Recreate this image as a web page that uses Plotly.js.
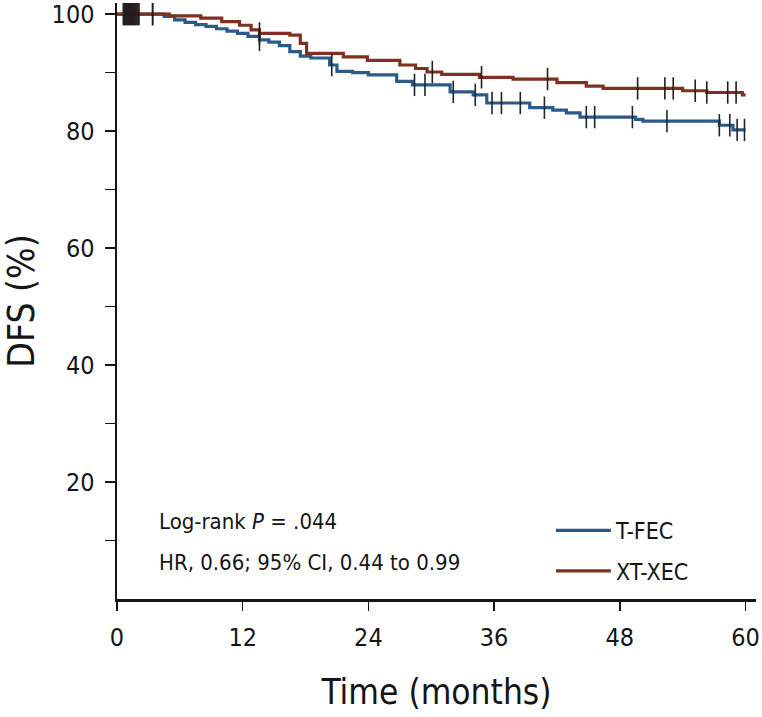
<!DOCTYPE html>
<html>
<head>
<meta charset="utf-8">
<script src="https://cdn.plot.ly/plotly-3.0.1.min.js"></script>
<style>html,body{margin:0;padding:0;background:#fff;}#chart{width:762px;height:717px;}</style>
</head>
<body>
<div id="chart"></div>
<script>
// T-FEC Kaplan-Meier steps (months, DFS %)
const tfecTimes = [0, 4.5, 5.5, 6.5, 7.5, 8.5, 9.5, 10.5, 11.5, 12.5, 13.6, 14.5, 15.5, 16.5, 17.5, 18.5, 20.3, 21, 22.5, 24, 26.7, 28.2, 31.8, 34, 35.3, 39.4, 41.6, 42.9, 44.2, 49.5, 50.2, 57.5, 58.8, 60];
const tfecDFS   = [100, 99.6, 99.0, 98.6, 98.2, 97.9, 97.5, 97.1, 96.7, 96.2, 95.6, 95.2, 94.6, 93.6, 92.8, 92.5, 91.3, 90.2, 90.0, 89.6, 88.5, 87.9, 86.7, 86.2, 84.8, 84.0, 83.6, 83.1, 82.4, 82.0, 81.7, 81.0, 80.2, 80.2];
const tfecCensor = [0.6, 0.8, 1.0, 1.2, 1.4, 1.6, 1.8, 2.0, 3.4, 13.6, 20.5, 28.4, 29.4, 32.1, 34.2, 35.8, 36.7, 38.5, 40.8, 44.8, 45.6, 49.2, 52.5, 57.5, 58.5, 59.2, 59.9];

// XT-XEC Kaplan-Meier steps
const xtxecTimes = [0, 5, 8, 10, 11.7, 12.8, 13.6, 16.5, 17.5, 18.1, 21.6, 23.9, 27, 28.5, 29.6, 31, 34.6, 37.8, 42, 44.8, 46.4, 54, 56.3, 59.7, 60];
const xtxecDFS   = [100, 99.7, 99.3, 98.7, 98.1, 97.3, 96.7, 96.4, 95.0, 93.3, 92.7, 92.1, 91.3, 90.7, 90.1, 89.7, 89.2, 88.9, 88.3, 87.7, 87.3, 86.9, 86.6, 86.2, 86.2];
const xtxecCensor = [0.7, 0.9, 1.1, 1.3, 1.5, 1.7, 1.9, 2.1, 3.4, 13.6, 30.1, 34.8, 41.1, 49.7, 52.3, 53.1, 55.2, 56.3, 58.3, 59.1];

const xTicks = [0, 12, 24, 36, 48, 60];
const yTicks = [20, 40, 60, 80, 100];
const yMinorTicks = [10, 30, 50, 70, 90];

function stepAt(times, vals, t) {
  let v = vals[0];
  for (let i = 0; i < times.length; i++) { if (times[i] <= t) v = vals[i]; }
  return v;
}

const FONT = '"Liberation Sans Narrow", "DejaVu Sans Condensed", "Arial Narrow", sans-serif';
const BLUE = '#2b5a88';
const RED = '#7f3020';
const INK = '#151515';

const traces = [
  {x: tfecTimes, y: tfecDFS, mode: 'lines', line: {shape: 'hv', color: BLUE, width: 3.2}, name: 'T-FEC', legend: 'legend'},
  {x: xtxecTimes, y: xtxecDFS, mode: 'lines', line: {shape: 'hv', color: RED, width: 3.2}, name: 'XT-XEC', legend: 'legend2'},
  {x: tfecCensor, y: tfecCensor.map(t => stepAt(tfecTimes, tfecDFS, t)), mode: 'markers', showlegend: false,
   marker: {symbol: 'line-ns', size: 16, line: {color: '#1d2630', width: 1.6}}},
  {x: xtxecCensor, y: xtxecCensor.map(t => stepAt(xtxecTimes, xtxecDFS, t)), mode: 'markers', showlegend: false,
   marker: {symbol: 'line-ns', size: 16, line: {color: '#261c1a', width: 1.6}}}
];

const layout = {
  width: 762, height: 717,
  margin: {l: 117, r: 6, t: 3, b: 118},
  paper_bgcolor: '#fff', plot_bgcolor: '#fff',
  font: {family: FONT, color: INK, size: 22},
  xaxis: {
    range: [0, 61], tickvals: xTicks, ticktext: xTicks.map(String),
    showline: true, linecolor: INK, linewidth: 2.5, mirror: false,
    ticks: 'outside', ticklen: 9, tickwidth: 1.5, tickcolor: INK,
    ticklabelstandoff: 5, ticklabeloverflow: 'allow',
    showgrid: false, zeroline: false,
    tickfont: {family: FONT, size: 25, color: INK},
    title: {text: 'Time (months)', font: {family: FONT, size: 35, color: INK}, standoff: 29}
  },
  yaxis: {
    range: [0, 101.9], tickvals: yTicks, ticktext: yTicks.map(String),
    showline: true, linecolor: INK, linewidth: 2.5,
    ticks: 'outside', ticklen: 10, tickwidth: 1.5, tickcolor: INK,
    ticklabelstandoff: 5, ticklabeloverflow: 'allow',
    minor: {tickvals: yMinorTicks, ticks: 'outside', ticklen: 10, tickwidth: 1.5, tickcolor: INK, showgrid: false},
    showgrid: false, zeroline: false,
    tickfont: {family: FONT, size: 25, color: INK},
    title: {text: 'DFS (%)', font: {family: FONT, size: 37, color: INK}, standoff: 7}
  },
  legend: {x: 0.679, y: 0.115, xanchor: 'left', yanchor: 'middle', bgcolor: 'rgba(0,0,0,0)',
           font: {family: FONT, size: 23, color: INK}, itemwidth: 55},
  legend2: {x: 0.679, y: 0.047, xanchor: 'left', yanchor: 'middle', bgcolor: 'rgba(0,0,0,0)',
           font: {family: FONT, size: 23, color: INK}, itemwidth: 55},
  annotations: [
    {x: 3.8, y: 13.2, xref: 'x', yref: 'y', xanchor: 'left', yanchor: 'middle', showarrow: false,
     text: 'Log-rank <i>P</i> = .044', font: {family: FONT, size: 22, color: INK}},
    {x: 3.8, y: 6.2, xref: 'x', yref: 'y', xanchor: 'left', yanchor: 'middle', showarrow: false,
     text: 'HR, 0.66; 95% CI, 0.44 to 0.99', font: {family: FONT, size: 22, color: INK}}
  ],
  showlegend: true
};

Plotly.newPlot('chart', traces, layout, {displayModeBar: false, staticPlot: true});
</script>
</body>
</html>
